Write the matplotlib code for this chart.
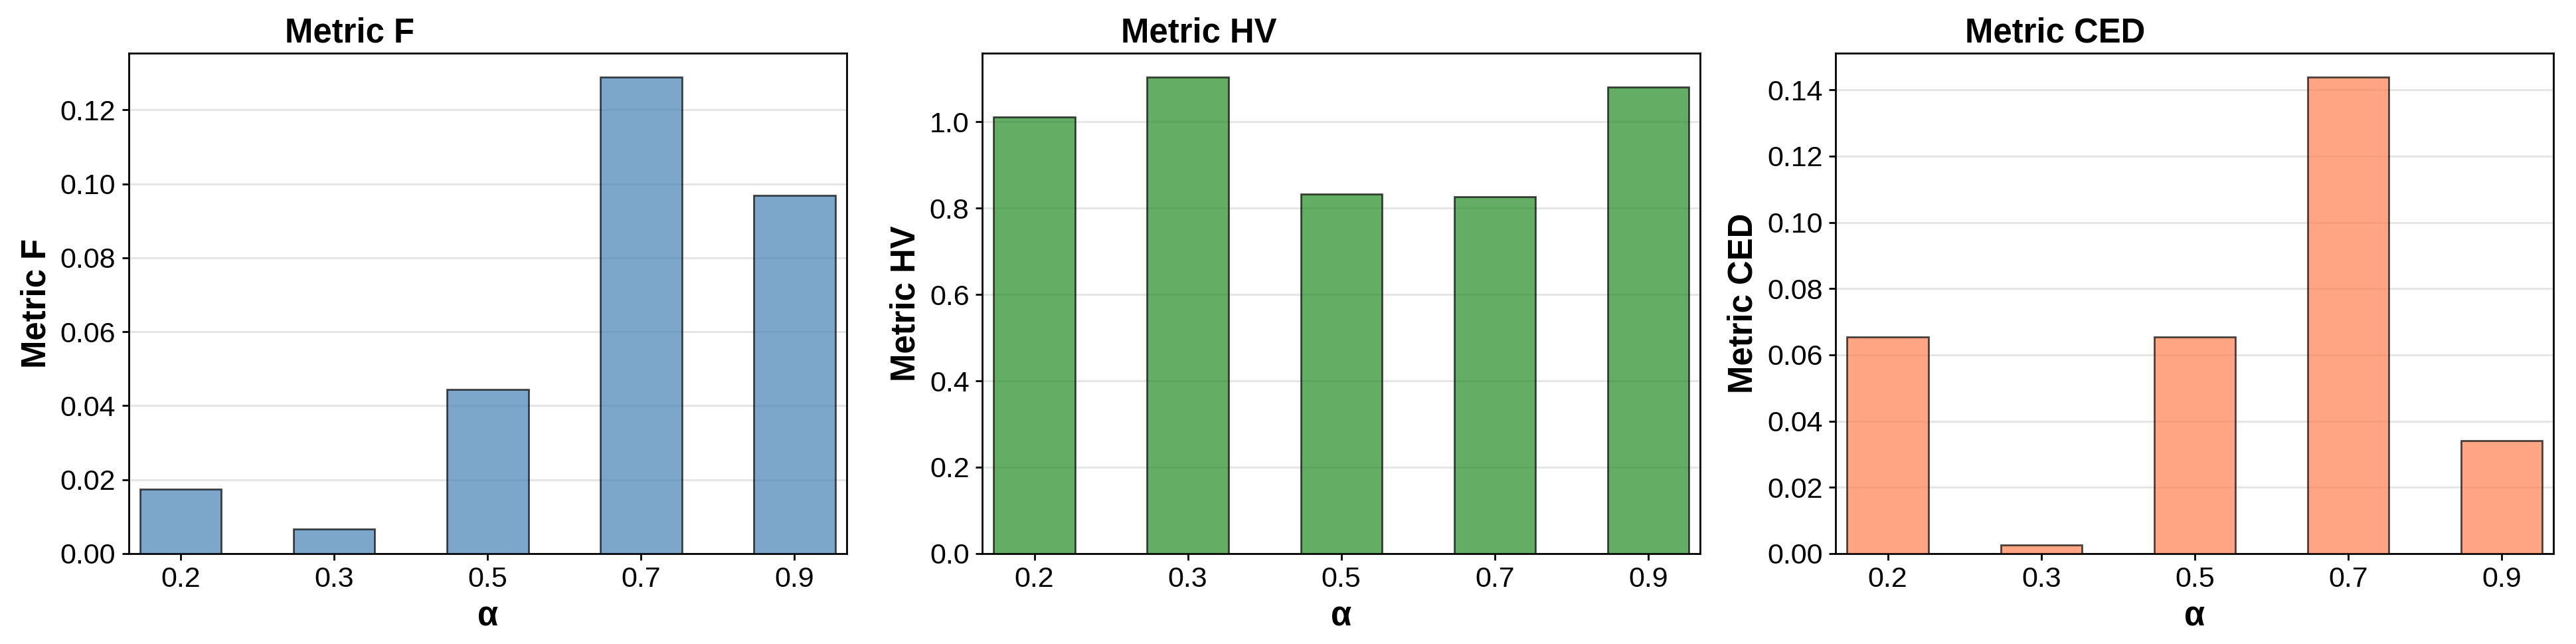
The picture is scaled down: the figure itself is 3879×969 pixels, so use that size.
import matplotlib
matplotlib.use("Agg")
import matplotlib.pyplot as plt
import numpy as np

plt.rcParams['font.family'] = ['Liberation Sans', 'DejaVu Sans']

alphas = ["0.2", "0.3", "0.5", "0.7", "0.9"]
metric_f = [0.0174, 0.0067, 0.0444, 0.1289, 0.0969]
metric_hv = [1.012, 1.104, 0.832, 0.827, 1.081]
metric_ced = [0.0654, 0.0026, 0.0654, 0.1439, 0.0341]

names = ["Metric F", "Metric HV", "Metric CED"]
series = [metric_f, metric_hv, metric_ced]
colors = ["steelblue", "forestgreen", "coral"]
title_x = [0.308, 0.302, 0.306]

fig = plt.figure(figsize=(19.4, 4.845), dpi=200)
lefts = [0.0499, 0.3812, 0.7124]
w_ax = 0.2787
bottom, top = 0.1405, 0.9175

for i, (name, vals, col) in enumerate(zip(names, series, colors)):
    ax = fig.add_axes([lefts[i], bottom, w_ax, top - bottom])
    x = np.arange(len(alphas))
    ax.bar(x, vals, width=0.53, color=col, alpha=0.7, edgecolor='black', linewidth=1.0, zorder=3)
    ax.set_xticks(x)
    ax.set_xticklabels(alphas)
    ax.set_xlim(-0.34, len(alphas) - 1 + 0.34)
    ax.set_ylim(0, max(vals) * 1.05)
    ax.grid(axis='y', color='lightgray', alpha=0.6, linewidth=1.0, zorder=0)
    ax.set_axisbelow(True)
    ax.tick_params(labelsize=15.5, length=3.5, width=1.0)
    ax.set_title(name, fontsize=18.3, fontweight='bold', x=title_x[i])
    ax.set_ylabel(name, fontsize=18.3, fontweight='bold')
    ax.set_xlabel('α', fontsize=18.3, fontweight='bold')
    for s in ax.spines.values():
        s.set_linewidth(1.0)

fig.savefig("out.png", dpi=200)
